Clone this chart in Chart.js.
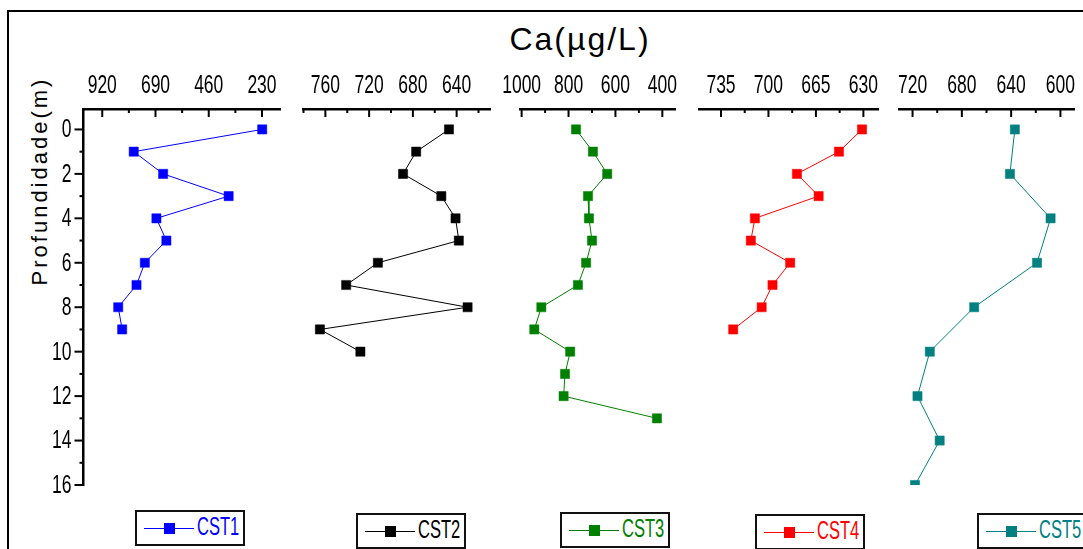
<!DOCTYPE html>
<html>
<head>
<meta charset="utf-8">
<script src="https://cdn.jsdelivr.net/npm/chart.js@4.4.1/dist/chart.umd.min.js"></script>
<style>
    body { margin: 0; background: #fff; }
    #wrap { position: relative; width: 1083px; height: 549px; overflow: hidden; background: #fff; }
    #frame { position: absolute; left: 7px; top: 10px; width: 1100px; height: 560px; border: 2px solid #000; }
    canvas { position: absolute; top: 60px; }
    #title { position: absolute; left: 430px; top: 23px; width: 300px; text-align: center;
        font: 32px 'Liberation Sans', sans-serif; letter-spacing: 2px; line-height: 32px; color: #000; }
    #ytitle { position: absolute; left: -88px; top: 166px; width: 260px; height: 30px; line-height: 30px;
        text-align: center; transform: rotate(-90deg); font: 22px 'Liberation Sans', sans-serif;
        letter-spacing: 3px; color: #000; }
    .leg { position: absolute; height: 32px; border: 2px solid #111; background: #fff; }
    .leg .ln { position: absolute; left: 7px; top: 16px; width: 50px; height: 1px; }
    .leg .mk { position: absolute; left: 27px; top: 11px; width: 11px; height: 11px; }
    .leg .tx { position: absolute; left: 60px; top: 0px; font: 25px 'Liberation Sans', sans-serif;
        transform: scaleX(0.66); transform-origin: 0 50%; white-space: nowrap; }
</style>
</head>
<body>
<div id="wrap">
    <div id="frame"></div>
    <div id="title">Ca(µg/L)</div>
    <div id="ytitle">Profundidade(m)</div>
</div>
<script>
// depth ticks (shared vertical axis)
const depthTicks = [0, 2, 4, 6, 8, 10, 12, 14, 16];

// CST1
const depth1 = [0, 1, 2, 3, 4, 5, 6, 7, 8, 9];
const ca1 = [229, 784, 657, 374, 686, 643, 736, 772, 851, 834];
const ticks1 = [920, 690, 460, 230];

// CST2
const depth2 = [0, 1, 2, 3, 4, 5, 6, 7, 8, 9, 10];
const ca2 = [647, 677, 689, 654, 641, 638, 712, 741, 630, 765, 728];
const ticks2 = [760, 720, 680, 640];

// CST3
const depth3 = [0, 1, 2, 3, 4, 5, 6, 7, 8, 9, 10, 11, 12, 13];
const ca3 = [768, 696, 635, 717, 713, 700, 725, 760, 916, 946, 793, 815, 821, 423];
const ticks3 = [1000, 800, 600, 400];

// CST4
const depth4 = [0, 1, 2, 3, 4, 5, 6, 7, 8, 9];
const ca4 = [631, 648, 679, 663, 710, 713, 684, 697, 705, 726];
const ticks4 = [735, 700, 665, 630];

// CST5
const depth5 = [0, 2, 4, 6, 8, 10, 12, 14, 16];
const ca5 = [637, 641, 608, 619, 670, 706, 716, 698, 718];
const ticks5 = [720, 680, 640, 600];

const names = ['CST1', 'CST2', 'CST3', 'CST4', 'CST5'];
const colors = ['#0000FF', '#000000', '#008000', '#FF0000', '#008080'];

// panel layout: plot area left/right in page px, axis range
const panels = [
    { depth: depth1, ca: ca1, ticks: ticks1, min: 150, max: 1001, x0: 83.5, x1: 280.5, legX: 135, legY: 510 },
    { depth: depth2, ca: ca2, ticks: ticks2, min: 609.5, max: 780, x0: 303.5, x1: 490, legX: 356, legY: 513 },
    { depth: depth3, ca: ca3, ticks: ticks3, min: 346, max: 1004, x0: 520.7, x1: 675, legX: 560, legY: 512 },
    { depth: depth4, ca: ca4, ticks: ticks4, min: 619, max: 751, x0: 699.3, x1: 878.3, legX: 755, legY: 514 },
    { depth: depth5, ca: ca5, ticks: ticks5, min: 589, max: 731, x0: 899, x1: 1074, legX: 977, legY: 513 }
];

// condensed label text, like the narrow font of the original
function narrowText(ctx, text, x, y, align, baseline) {
    ctx.save();
    ctx.translate(x, y);
    ctx.scale(0.7, 1);
    ctx.textAlign = align;
    ctx.textBaseline = baseline;
    ctx.fillText(text, 0, 0);
    ctx.restore();
}

// tick marks (major + minor) and tick labels
const axisDecor = {
    id: 'axisDecor',
    afterDraw(chart, args, opts) {
        const ctx = chart.ctx;
        const area = chart.chartArea;
        ctx.save();
        ctx.strokeStyle = '#000';
        ctx.fillStyle = '#000';
        ctx.lineWidth = 2;
        ctx.font = "25px 'Liberation Sans', sans-serif";

        const xs = chart.scales.x;
        const xt = opts.xTicks;
        const step = Math.abs(xt[0] - xt[1]) / 2;
        const lo = Math.min(...xt);
        for (let k = -20; k < 40; k++) {
            const v = lo + k * step;
            if (v < xs.min - 1e-6 || v > xs.max + 1e-6) continue;
            const px = xs.getPixelForValue(v);
            ctx.beginPath();
            ctx.moveTo(px, area.top);
            ctx.lineTo(px, area.top + (k % 2 === 0 ? 8 : 4));
            ctx.stroke();
        }
        xt.forEach(v => narrowText(ctx, String(v), xs.getPixelForValue(v), area.top - 16, 'center', 'alphabetic'));

        if (opts.yAxis) {
            const ys = chart.scales.y;
            for (let d = 0; d <= 16; d++) {
                const py = ys.getPixelForValue(d);
                ctx.beginPath();
                ctx.moveTo(area.left - (d % 2 === 0 ? 9 : 4), py);
                ctx.lineTo(area.left, py);
                ctx.stroke();
            }
            depthTicks.forEach(d => narrowText(ctx, String(d), area.left - 12, ys.getPixelForValue(d) + 1, 'right', 'middle'));
        }
        ctx.restore();
    }
};

const wrap = document.getElementById('wrap');

panels.forEach((p, i) => {
    const first = i === 0;
    const left = first ? 0 : Math.floor(p.x0 - 35);
    const width = Math.ceil(p.x1 + 35) - left;
    const canvas = document.createElement('canvas');
    canvas.width = width;
    canvas.height = 440;
    canvas.style.left = left + 'px';
    wrap.appendChild(canvas);

    new Chart(canvas.getContext('2d'), {
        type: 'scatter',
        data: {
            datasets: [{
                label: names[i],
                data: p.depth.map((d, j) => ({ x: p.ca[j], y: d })),
                showLine: true,
                borderColor: colors[i],
                backgroundColor: colors[i],
                borderWidth: 1,
                pointStyle: 'rect',
                pointRadius: 6.5,
                pointBorderWidth: 0.5,
                pointBorderColor: colors[i],
                clip: 0
            }]
        },
        options: {
            responsive: false,
            animation: false,
            layout: {
                padding: {
                    left: first ? 0 : p.x0 - left,
                    right: left + width - p.x1,
                    top: 0,
                    bottom: 15
                }
            },
            scales: {
                x: {
                    type: 'linear',
                    position: 'top',
                    reverse: true,
                    min: p.min,
                    max: p.max,
                    afterFit: s => { s.height = 49; },
                    grid: { display: false, drawTicks: false },
                    border: { display: true, color: '#000', width: 2.5 },
                    ticks: { display: false }
                },
                y: {
                    type: 'linear',
                    display: first,
                    position: 'left',
                    reverse: true,
                    min: -0.92,
                    max: 16,
                    afterFit: s => { if (first) s.width = p.x0; },
                    grid: { display: false, drawTicks: false },
                    border: { display: true, color: '#000', width: 2.5 },
                    ticks: { display: false }
                }
            },
            plugins: {
                legend: { display: false },
                tooltip: { enabled: false },
                axisDecor: { xTicks: p.ticks, yAxis: first }
            }
        },
        plugins: [axisDecor]
    });

    // boxed legend
    const leg = document.createElement('div');
    leg.className = 'leg';
    leg.style.left = p.legX + 'px';
    leg.style.top = p.legY + 'px';
    leg.style.width = '106px';
    leg.innerHTML = `
        <span class="ln" style="background:${colors[i]}"></span>
        <span class="mk" style="background:${colors[i]}"></span>
        <span class="tx" style="color:${colors[i]}">${names[i]}</span>`;
    wrap.appendChild(leg);
});
</script>
</body>
</html>
